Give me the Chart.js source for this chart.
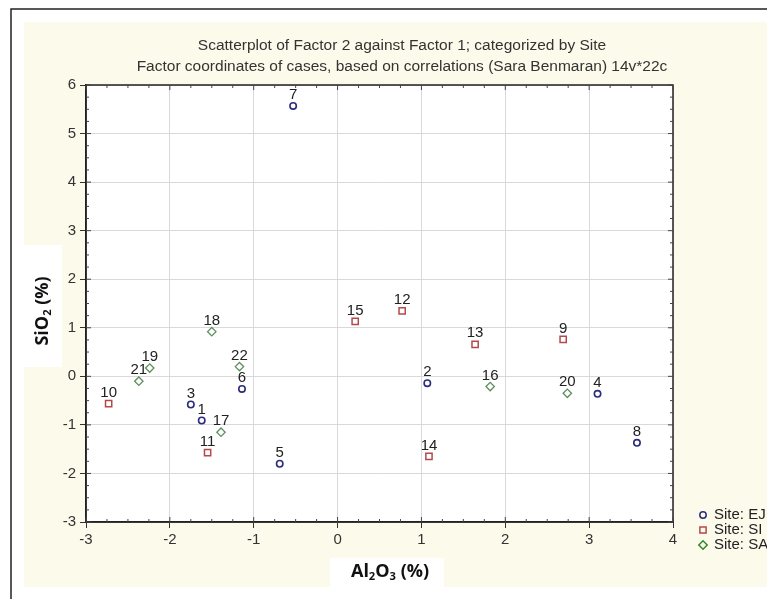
<!DOCTYPE html>
<html>
<head>
<meta charset="utf-8">
<script src="https://cdn.jsdelivr.net/npm/chart.js@4.4.0/dist/chart.umd.min.js"></script>
<style>
  html, body { margin: 0; padding: 0; background: #fff; }
  #wrap { width: 767px; height: 599px; }
</style>
</head>
<body>
<div id="wrap"><canvas id="plot" width="767" height="599"></canvas></div>
<script>
// Factor coordinates
const siteNames = ['Site: EJ', 'Site: SI', 'Site: SA'];

const ejIds = [1, 2, 3, 4, 5, 6, 7, 8];
const ejX = [-1.62, 1.07, -1.75, 3.10, -0.69, -1.14, -0.53, 3.57];
const ejY = [-0.91, -0.14, -0.58, -0.36, -1.80, -0.26, 5.57, -1.37];

const siIds = [9, 10, 11, 12, 13, 14, 15];
const siX = [2.69, -2.73, -1.55, 0.77, 1.64, 1.09, 0.21];
const siY = [0.76, -0.56, -1.57, 1.35, 0.66, -1.65, 1.13];

const saIds = [16, 17, 18, 19, 20, 21, 22];
const saX = [1.82, -1.39, -1.50, -2.24, 2.74, -2.37, -1.17];
const saY = [-0.21, -1.15, 0.92, 0.17, -0.35, -0.10, 0.20];

const xTicks = [-3, -2, -1, 0, 1, 2, 3, 4];
const yTicks = [-3, -2, -1, 0, 1, 2, 3, 4, 5, 6];

const titleLines = [
  'Scatterplot of Factor 2 against Factor 1; categorized by Site',
  'Factor coordinates of cases, based on correlations (Sara Benmaran) 14v*22c'
];

function pairs(xs, ys) {
  return xs.map((x, i) => ({ x: x, y: ys[i] }));
}

const labelIds = [ejIds, siIds, saIds];

// draws "base" + subscript pieces, centred at 0,0
function drawChem(ctx, parts, size) {
  let w = 0;
  parts.forEach(p => {
    ctx.font = 'bold ' + (p.sub ? size * 0.62 : size) + 'px "Open Sans"';
    w += ctx.measureText(p.t).width;
  });
  let x = -w / 2;
  parts.forEach(p => {
    ctx.font = 'bold ' + (p.sub ? size * 0.62 : size) + 'px "Open Sans"';
    ctx.fillText(p.t, x, p.sub ? size * 0.28 : 0);
    x += ctx.measureText(p.t).width;
  });
}

const decor = {
  id: 'decor',
  beforeDraw(chart) {
    const ctx = chart.ctx, a = chart.chartArea;
    ctx.save();
    ctx.fillStyle = '#fff';
    ctx.fillRect(0, 0, chart.width, chart.height);
    // outer frame
    ctx.strokeStyle = '#222';
    ctx.lineWidth = 1.5;
    ctx.beginPath();
    ctx.moveTo(11, chart.height);
    ctx.lineTo(11, 9);
    ctx.lineTo(chart.width, 9);
    ctx.stroke();
    // cream panel
    ctx.fillStyle = '#fcfaea';
    ctx.fillRect(24, 22, chart.width - 24, 565);
    // plot area
    ctx.fillStyle = '#fff';
    ctx.fillRect(a.left, a.top, a.right - a.left, a.bottom - a.top);
    // white boxes behind axis titles
    ctx.fillRect(24, 245, 38, 122);
    ctx.fillRect(330, 558, 114, 30);
    ctx.restore();
  },
  afterDatasetsDraw(chart) {
    const ctx = chart.ctx;
    ctx.save();
    ctx.fillStyle = '#222';
    ctx.font = '15px "Liberation Sans"';
    ctx.textAlign = 'center';
    ctx.textBaseline = 'middle';
    chart.data.datasets.forEach((ds, i) => {
      chart.getDatasetMeta(i).data.forEach((pt, j) => {
        ctx.fillText(String(labelIds[i][j]), pt.x, pt.y - 11);
      });
    });
    ctx.restore();
  },
  afterDraw(chart) {
    const ctx = chart.ctx, a = chart.chartArea;
    const xs = chart.scales.x, ys = chart.scales.y;
    ctx.save();
    // frame
    ctx.strokeStyle = '#222';
    ctx.lineWidth = 1.5;
    ctx.strokeRect(a.left, a.top, a.right - a.left, a.bottom - a.top);
    // inner ticks, quarter steps
    ctx.lineWidth = 1;
    ctx.strokeStyle = '#444';
    ctx.beginPath();
    for (let i = xs.min * 4; i <= xs.max * 4; i++) {
      const px = xs.getPixelForValue(i / 4);
      const len = i % 4 === 0 ? 5 : 3;
      ctx.moveTo(px, a.bottom); ctx.lineTo(px, a.bottom - len);
      ctx.moveTo(px, a.top); ctx.lineTo(px, a.top + len);
    }
    for (let i = ys.min * 4; i <= ys.max * 4; i++) {
      const py = ys.getPixelForValue(i / 4);
      const len = i % 4 === 0 ? 5 : 3;
      ctx.moveTo(a.left, py); ctx.lineTo(a.left + len, py);
      ctx.moveTo(a.right, py); ctx.lineTo(a.right - len, py);
    }
    ctx.stroke();

    // titles
    ctx.fillStyle = '#333';
    ctx.font = '15.5px "Liberation Sans"';
    ctx.textAlign = 'center';
    ctx.textBaseline = 'middle';
    ctx.fillText(titleLines[0], 402, 46);
    ctx.fillText(titleLines[1], 402, 67);

    // axis titles
    ctx.fillStyle = '#111';
    ctx.textAlign = 'left';
    ctx.save();
    ctx.translate(390, 572);
    drawChem(ctx, [{ t: 'Al' }, { t: '2', sub: true }, { t: 'O' }, { t: '3', sub: true }, { t: ' (%)' }], 18);
    ctx.restore();
    ctx.save();
    ctx.translate(43, 311);
    ctx.rotate(-Math.PI / 2);
    drawChem(ctx, [{ t: 'SiO' }, { t: '2', sub: true }, { t: ' (%)' }], 18);
    ctx.restore();

    // legend (runs off the right edge, as in the source)
    ctx.font = '15px "Liberation Sans"';
    ctx.textBaseline = 'middle';
    chart.data.datasets.forEach((ds, i) => {
      const y = 515 + i * 15;
      ctx.strokeStyle = ds.legendColor;
      ctx.fillStyle = 'rgba(0,0,0,0)';
      ctx.lineWidth = 1.5;
      Chart.helpers.drawPoint(ctx, {
        pointStyle: ds.pointStyle, radius: ds.pointRadius, rotation: 0, borderWidth: 1.5
      }, 703, y);
      ctx.fillStyle = '#222';
      ctx.fillText(siteNames[i], 714, y);
    });
    ctx.restore();
  }
};

const ctx = document.getElementById('plot').getContext('2d');
new Chart(ctx, {
  type: 'scatter',
  data: {
    datasets: [
      {
        label: siteNames[0], data: pairs(ejX, ejY),
        pointStyle: 'circle', pointRadius: 3.2, borderWidth: 1.6,
        borderColor: '#2c2c7c', backgroundColor: 'rgba(255,255,255,0)', legendColor: '#2c2c7c'
      },
      {
        label: siteNames[1], data: pairs(siX, siY),
        pointStyle: 'rect', pointRadius: 4.4, borderWidth: 1.5,
        borderColor: '#b24a4a', backgroundColor: 'rgba(255,255,255,0)', legendColor: '#b24a4a'
      },
      {
        label: siteNames[2], data: pairs(saX, saY),
        pointStyle: 'rectRot', pointRadius: 4.2, borderWidth: 1.3,
        borderColor: '#5d8f5d', backgroundColor: 'rgba(255,255,255,0)', legendColor: '#2e8a2e'
      }
    ]
  },
  options: {
    responsive: false,
    animation: false,
    events: [],
    layout: { padding: { top: 85, right: 94, left: 0, bottom: 0 } },
    plugins: {
      legend: { display: false },
      title: { display: false },
      tooltip: { enabled: false }
    },
    scales: {
      x: {
        type: 'linear', min: -3, max: 4,
        afterFit(s) { s.height = 77; },
        afterBuildTicks(s) { s.ticks = xTicks.map(v => ({ value: v })); },
        grid: { color: '#d9d9d9', lineWidth: 1, tickLength: 6, tickColor: '#333' },
        border: { display: true, color: '#222', width: 1.5 },
        ticks: { color: '#333', font: { family: 'Liberation Sans', size: 15 }, padding: 3, maxRotation: 0 }
      },
      y: {
        type: 'linear', min: -3, max: 6,
        afterFit(s) { s.width = 86; },
        afterBuildTicks(s) { s.ticks = yTicks.map(v => ({ value: v })); },
        grid: { color: '#d9d9d9', lineWidth: 1, tickLength: 6, tickColor: '#333' },
        border: { display: true, color: '#222', width: 1.5 },
        ticks: { color: '#333', font: { family: 'Liberation Sans', size: 15 }, padding: 4 }
      }
    }
  },
  plugins: [decor]
});
</script>
</body>
</html>
